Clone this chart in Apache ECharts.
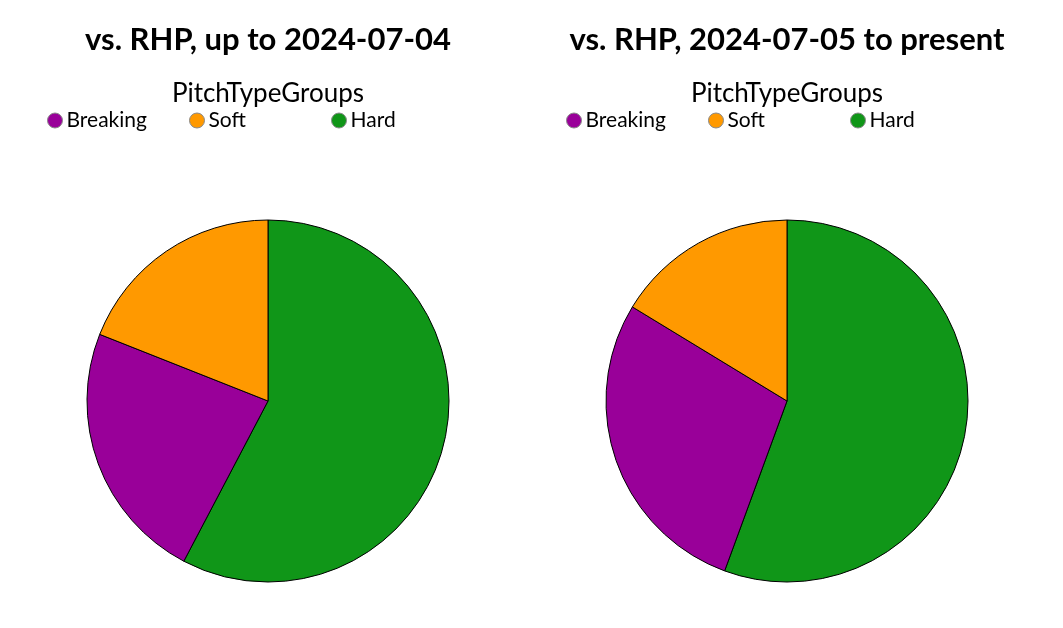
<!DOCTYPE html>
<html><head><meta charset="utf-8">
<script src="https://cdn.jsdelivr.net/npm/echarts@6/dist/echarts.min.js"></script>
<style>html,body{margin:0;padding:0;background:#fff}#c{width:1063px;height:628px}</style>
</head><body><div id="c"></div>
<script>
const categories = ['Hard', 'Breaking', 'Soft'];
const legendOrder = ['Breaking', 'Soft', 'Hard'];
const colors = { Hard: '#109618', Breaking: '#990099', Soft: '#ff9900' };
const leftValues = [57.7, 23.3, 19.0];
const rightValues = [55.6, 28.1, 16.3];
const titles = ['vs. RHP, up to 2024-07-04', 'vs. RHP, 2024-07-05 to present'];
const legendTitle = 'PitchTypeGroups';

const font = 'Lato';
const centersX = [268, 787];
const legendLeft = [47, 566];
const legendStep = 142;
const chart = echarts.init(document.getElementById('c'));

function pieData(vals) {
  return categories.map((c, i) => ({ name: c, value: vals[i], itemStyle: { color: colors[c] } }));
}

const legends = [];
[0, 1].forEach(k => {
  legendOrder.forEach((name, i) => {
    legends.push({
      seriesIndex: k,
      data: [name],
      left: legendLeft[k] + legendStep * i,
      top: 110,
      padding: 0,
      icon: 'circle',
      itemWidth: 15,
      itemHeight: 15,
      itemGap: 0,
      itemStyle: { borderColor: '#888', borderWidth: 1 },
      selectedMode: false,
      textStyle: { fontFamily: font, fontSize: 21, color: '#000', padding: [0, 0, 0, -1] }
    });
  });
});

chart.setOption({
  animation: false,
  title: [
    { text: titles[0], left: centersX[0], top: 24, padding: 0, textAlign: 'center',
      textStyle: { fontFamily: font, fontWeight: 'bold', fontSize: 31, color: '#000' } },
    { text: titles[1], left: centersX[1], top: 24, padding: 0, textAlign: 'center',
      textStyle: { fontFamily: font, fontWeight: 'bold', fontSize: 31, color: '#000' } },
    { text: legendTitle, left: centersX[0], top: 81, padding: 0, textAlign: 'center',
      textStyle: { fontFamily: font, fontWeight: 'normal', fontSize: 26, color: '#000' } },
    { text: legendTitle, left: centersX[1], top: 81, padding: 0, textAlign: 'center',
      textStyle: { fontFamily: font, fontWeight: 'normal', fontSize: 26, color: '#000' } }
  ],
  legend: legends,
  series: [leftValues, rightValues].map((vals, k) => ({
    type: 'pie',
    center: [centersX[k], 401],
    radius: 181,
    startAngle: 90,
    clockwise: true,
    label: { show: false },
    labelLine: { show: false },
    itemStyle: { borderColor: '#000', borderWidth: 1 },
    emphasis: { disabled: true },
    data: pieData(vals)
  }))
});
</script></body></html>
